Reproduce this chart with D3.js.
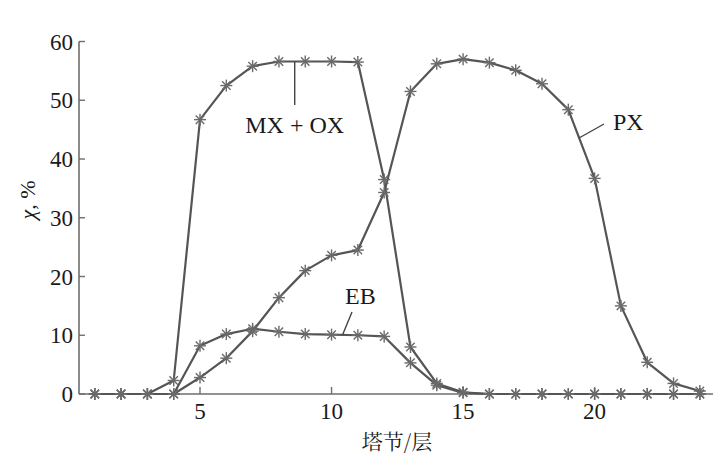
<!DOCTYPE html>
<html><head><meta charset="utf-8">
<script src="https://cdn.jsdelivr.net/npm/d3@7"></script>
<style>html,body{margin:0;padding:0;background:#fff;}</style>
</head><body>
<svg id="c" width="714" height="468"></svg>
<script>
const stages = d3.range(1, 25);
const mxox = [0,0,0,2.3,46.7,52.5,55.8,56.6,56.6,56.6,56.5,36.5,8.0,1.8,0.3,0,0,0,0,0,0,0,0,0];
const eb   = [0,0,0,0,8.2,10.2,11.1,10.6,10.2,10.1,10.0,9.8,5.3,1.5,0.2,0,0,0,0,0,0,0,0,0];
const px   = [0,0,0,0,2.8,6.1,10.7,16.4,21.0,23.6,24.5,34.3,51.5,56.2,57.0,56.4,55.1,52.8,48.4,36.7,15.0,5.4,1.8,0.5];
const xTicks = [5,10,15,20];
const yTicks = [0,10,20,30,40,50,60];
const seriesNames = ["MX + OX","EB","PX"];

const SERIF = '"Liberation Serif"';
const CJK = '"Noto Serif CJK SC"';
const svg = d3.select("#c");
const x = d3.scaleLinear().domain([0.4, 24.5]).range([79, 713]);
const y = d3.scaleLinear().domain([0, 60]).range([394, 41.5]);
const axisCol = "#6e6e6e";

function txt(sel, fam, size) {
  return sel.append("text").style("font-family", fam).style("font-size", size + "px").attr("fill", "#1a1a1a");
}

svg.append("line").attr("x1", x(0.4)).attr("x2", x(0.4)).attr("y1", y(0)).attr("y2", y(60))
  .attr("stroke", axisCol).attr("stroke-width", 1.6);
svg.append("line").attr("x1", x(0.4)).attr("x2", x(24.5)).attr("y1", y(0)).attr("y2", y(0))
  .attr("stroke", axisCol).attr("stroke-width", 1.6);

yTicks.forEach(t => {
  svg.append("line").attr("x1", x(0.4)).attr("x2", x(0.4) + 6).attr("y1", y(t)).attr("y2", y(t))
    .attr("stroke", axisCol).attr("stroke-width", 1.4);
  txt(svg, SERIF, 23).attr("x", x(0.4) - 6).attr("y", y(t) + 8).attr("text-anchor", "end").text(t);
});
xTicks.forEach(t => {
  svg.append("line").attr("x1", x(t)).attr("x2", x(t)).attr("y1", y(0)).attr("y2", y(0) - 7)
    .attr("stroke", axisCol).attr("stroke-width", 1.4);
  txt(svg, SERIF, 23).attr("x", x(t)).attr("y", 419).attr("text-anchor", "middle").text(t);
});

txt(svg, CJK, 21).attr("x", 397).attr("y", 449).attr("text-anchor", "middle").text("塔节/层");
const yl = txt(svg, SERIF, 22).attr("transform", "translate(35,200) rotate(-90)").attr("text-anchor", "middle");
yl.append("tspan").style("font-style", "italic").text("χ");
yl.append("tspan").text(", %");

const line = d3.line().x((d, i) => x(stages[i])).y(d => y(d)).curve(d3.curveLinear);
const data = [mxox, eb, px];
data.forEach(s => {
  svg.append("path").attr("d", line(s)).attr("fill", "none").attr("stroke", "#555")
    .attr("stroke-width", 2.2).attr("stroke-linejoin", "round");
});
const r = 6;
data.forEach(s => {
  s.forEach((v, i) => {
    const g = svg.append("g").attr("transform", `translate(${x(stages[i])},${y(v)})`);
    [0, 45, 90, 135].forEach(a => {
      const rad = a * Math.PI / 180;
      g.append("line").attr("x1", -r * Math.cos(rad)).attr("y1", -r * Math.sin(rad))
        .attr("x2", r * Math.cos(rad)).attr("y2", r * Math.sin(rad))
        .attr("stroke", "#6a6a6a").attr("stroke-width", 1.4);
    });
  });
});

svg.append("line").attr("x1", x(8.6)).attr("x2", x(8.6)).attr("y1", y(56.6)).attr("y2", 105)
  .attr("stroke", "#444").attr("stroke-width", 1.4);
txt(svg, SERIF, 24).attr("x", x(8.6)).attr("y", 133).attr("text-anchor", "middle").text(seriesNames[0]);
svg.append("line").attr("x1", 342.5).attr("y1", y(10.05)).attr("x2", 352).attr("y2", 312)
  .attr("stroke", "#444").attr("stroke-width", 1.4);
txt(svg, SERIF, 24).attr("x", 345).attr("y", 304).text(seriesNames[1]);
svg.append("line").attr("x1", 579).attr("y1", 138).attr("x2", 604).attr("y2", 124)
  .attr("stroke", "#444").attr("stroke-width", 1.4);
txt(svg, SERIF, 24).attr("x", 613).attr("y", 130).text(seriesNames[2]);
</script>
</body></html>
